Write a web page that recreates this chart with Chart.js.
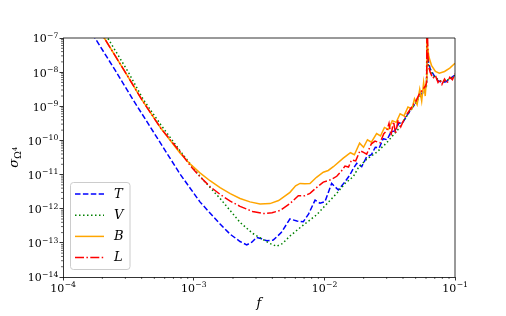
<!DOCTYPE html>
<html><head><meta charset="utf-8">
<script src="https://cdn.jsdelivr.net/npm/chart.js@4.4.1/dist/chart.umd.min.js"></script>
<style>html,body{margin:0;padding:0;background:#fff;}canvas{display:block;}</style>
</head><body>
<canvas id="c" width="506" height="316"></canvas>
<script>
// ---- data (log10 values) ----
const seriesNames = ['T', 'V', 'B', 'L'];
const xTickExps = [-4, -3, -2, -1];
const yTickExps = [-14, -13, -12, -11, -10, -9, -8, -7];

const logF_T = [-4.0,-3.755,-3.6,-3.462,-3.3,-3.105,-2.952,-2.798,-2.72,-2.645,-2.594,-2.555,-2.518,-2.48,-2.441,-2.391,-2.33,-2.263,-2.21,-2.161,-2.12,-2.071,-2.033,-1.995,-1.944,-1.893,-1.842,-1.804,-1.778,-1.752,-1.714,-1.676,-1.64,-1.61,-1.58,-1.55,-1.52,-1.49,-1.46,-1.43,-1.40,-1.37,-1.345,-1.31,-1.28,-1.25,-1.225,-1.217,-1.214,-1.208,-1.19,-1.16,-1.13,-1.10,-1.07,-1.04,-1.0];
const logS_T = [-5.5,-7.0,-7.95,-8.82,-9.8,-10.98,-11.8,-12.45,-12.75,-12.96,-13.06,-12.98,-12.84,-12.88,-12.94,-12.92,-12.7,-12.30,-12.36,-12.38,-12.15,-11.75,-11.84,-11.79,-11.26,-11.45,-11.21,-11.01,-10.82,-10.67,-10.77,-10.48,-10.42,-10.2,-10.22,-9.95,-9.98,-9.75,-9.72,-9.5,-9.48,-9.28,-9.14,-8.95,-8.75,-8.6,-8.45,-8.3,-7.0,-7.6,-7.9,-8.1,-8.25,-8.3,-8.28,-8.2,-8.08];

const logF_V = [-4.0,-3.658,-3.5,-3.386,-3.25,-3.105,-2.952,-2.798,-2.645,-2.55,-2.492,-2.416,-2.365,-2.32,-2.263,-2.2,-2.161,-2.11,-2.059,-1.982,-1.905,-1.842,-1.778,-1.74,-1.676,-1.6,-1.523,-1.434,-1.345,-1.28,-1.235,-1.218,-1.215,-1.208,-1.19,-1.16,-1.13,-1.1,-1.07,-1.04,-1.0];
const logS_V = [-4.8,-7.0,-8.0,-8.8,-9.55,-10.3,-11.05,-11.7,-12.4,-12.72,-12.85,-13.02,-13.1,-13.02,-12.8,-12.6,-12.48,-12.33,-12.18,-11.86,-11.55,-11.26,-11.06,-10.8,-10.55,-10.35,-10.07,-9.67,-9.14,-8.78,-8.55,-8.4,-7.0,-7.7,-7.95,-8.12,-8.22,-8.28,-8.25,-8.2,-8.1];

const logF_B = [-4.0,-3.684,-3.5,-3.398,-3.25,-3.105,-3.03,-2.952,-2.875,-2.798,-2.72,-2.645,-2.569,-2.492,-2.416,-2.35,-2.263,-2.22,-2.186,-2.15,-2.11,-2.06,-2.008,-1.97,-1.931,-1.855,-1.80,-1.77,-1.73,-1.70,-1.67,-1.64,-1.60,-1.57,-1.54,-1.51,-1.48,-1.45,-1.42,-1.39,-1.36,-1.33,-1.31,-1.29,-1.27,-1.255,-1.24,-1.228,-1.218,-1.215,-1.21,-1.2,-1.18,-1.15,-1.12,-1.08,-1.04,-1.0];
const logS_B = [-5.2,-7.0,-8.15,-8.8,-9.65,-10.37,-10.68,-10.95,-11.18,-11.38,-11.56,-11.70,-11.8,-11.86,-11.85,-11.76,-11.52,-11.33,-11.26,-11.27,-11.26,-11.08,-10.93,-10.88,-10.77,-10.52,-10.36,-10.42,-10.08,-10.2,-9.98,-10.05,-9.8,-9.87,-9.62,-9.68,-9.42,-9.47,-9.22,-9.28,-9.02,-9.08,-8.78,-8.95,-8.5,-8.85,-8.3,-8.7,-8.2,-6.8,-7.25,-7.55,-7.8,-7.98,-8.03,-7.98,-7.88,-7.74];

const logF_L = [-4.0,-3.684,-3.5,-3.398,-3.25,-3.105,-3.03,-2.952,-2.875,-2.798,-2.72,-2.645,-2.55,-2.467,-2.40,-2.339,-2.263,-2.199,-2.15,-2.11,-2.05,-2.008,-1.95,-1.905,-1.87,-1.842,-1.815,-1.791,-1.76,-1.727,-1.70,-1.676,-1.64,-1.612,-1.574,-1.545,-1.523,-1.505,-1.49,-1.47,-1.455,-1.435,-1.415,-1.38,-1.345,-1.30,-1.27,-1.245,-1.225,-1.217,-1.214,-1.21,-1.205,-1.19,-1.17,-1.15,-1.13,-1.115,-1.10,-1.08,-1.06,-1.04,-1.02,-1.0];
const logS_L = [-5.2,-7.0,-8.15,-8.8,-9.65,-10.33,-10.72,-11.06,-11.35,-11.58,-11.78,-11.93,-12.08,-12.14,-12.12,-12.05,-11.85,-11.62,-11.62,-11.55,-11.35,-11.22,-11.15,-11.05,-10.9,-10.75,-10.78,-10.57,-10.6,-10.3,-10.35,-10.4,-10.1,-10.02,-10.07,-9.8,-9.72,-9.5,-9.85,-9.45,-9.8,-9.4,-9.6,-9.3,-9.1,-8.85,-8.62,-8.5,-8.4,-8.3,-6.4,-7.0,-7.8,-8.0,-8.18,-8.1,-8.3,-8.22,-8.36,-8.2,-8.32,-8.15,-8.22,-8.05];

// ---- helpers ----
const toPts = (lf, ls) => lf.map((v, i) => ({ x: Math.pow(10, v), y: Math.pow(10, ls[i]) }));

const styles = [
  { color: '#0000ff', dash: [5.5, 2.4] },
  { color: '#008000', dash: [1.5, 2.5] },
  { color: '#ffa500', dash: [] },
  { color: '#ff0000', dash: [9, 2.4, 1.5, 2.4] }
];
const pairs = [[logF_T, logS_T], [logF_V, logS_V], [logF_B, logS_B], [logF_L, logS_L]];

const datasets = seriesNames.map((n, i) => ({
  label: n,
  data: toPts(pairs[i][0], pairs[i][1]),
  borderColor: styles[i].color,
  borderDash: styles[i].dash,
  borderWidth: 1.5,
  pointRadius: 0,
  tension: 0,
  fill: false,
  order: 4 - i
}));

const decadeMinor = (exps) => {
  const out = [];
  for (let k = 0; k < exps.length - 1; k++) for (let m = 2; m <= 9; m++) out.push(m * Math.pow(10, exps[k]));
  return out;
};

const BASE_FONT = '11px "DejaVu Serif"';
const EXP_FONT = '7.7px "DejaVu Serif"';
function drawPow(ctx, exp, x, yb, align) {
  const e = '\u2212' + Math.abs(exp);
  ctx.font = BASE_FONT; const w1 = ctx.measureText('10').width;
  ctx.font = EXP_FONT; const w2 = ctx.measureText(e).width;
  const x0 = align === 'center' ? x - (w1 + w2) / 2 : x - w1 - w2;
  ctx.textAlign = 'left'; ctx.textBaseline = 'alphabetic';
  ctx.font = BASE_FONT; ctx.fillText('10', x0, yb);
  ctx.font = EXP_FONT; ctx.fillText(e, x0 + w1 + 0.3, yb - 4.6);
}

const extras = {
  id: 'extras',
  afterDraw(chart) {
    const ctx = chart.ctx, a = chart.chartArea, xs = chart.scales.x, ys = chart.scales.y;
    ctx.save();
    ctx.strokeStyle = '#000'; ctx.lineWidth = 0.8; ctx.setLineDash([]);
    ctx.beginPath();
    ctx.moveTo(a.left, a.top); ctx.lineTo(a.right, a.top); ctx.lineTo(a.right, a.bottom);
    ctx.stroke();
    ctx.lineWidth = 0.6;
    ctx.beginPath();
    decadeMinor(xTickExps).forEach(v => { const p = xs.getPixelForValue(v); ctx.moveTo(p, a.bottom); ctx.lineTo(p, a.bottom + 2); });
    decadeMinor(yTickExps).forEach(v => { const p = ys.getPixelForValue(v); ctx.moveTo(a.left, p); ctx.lineTo(a.left - 2, p); });
    ctx.stroke();
    // tick labels (10^n) placed with the scales
    ctx.fillStyle = '#000';
    xTickExps.forEach(e => drawPow(ctx, e, xs.getPixelForValue(Math.pow(10, e)), a.bottom + 14.5, 'center'));
    yTickExps.forEach(e => drawPow(ctx, e, a.left - 5, ys.getPixelForValue(Math.pow(10, e)) + 4.4, 'right'));
    // legend
    const bx = 70.5, by = 182.5, bw = 59.5, bh = 87, r = 3;
    ctx.beginPath();
    ctx.moveTo(bx + r, by); ctx.lineTo(bx + bw - r, by); ctx.quadraticCurveTo(bx + bw, by, bx + bw, by + r);
    ctx.lineTo(bx + bw, by + bh - r); ctx.quadraticCurveTo(bx + bw, by + bh, bx + bw - r, by + bh);
    ctx.lineTo(bx + r, by + bh); ctx.quadraticCurveTo(bx, by + bh, bx, by + bh - r);
    ctx.lineTo(bx, by + r); ctx.quadraticCurveTo(bx, by, bx + r, by);
    ctx.closePath();
    ctx.fillStyle = 'rgba(255,255,255,0.8)'; ctx.fill();
    ctx.strokeStyle = '#cccccc'; ctx.lineWidth = 1; ctx.stroke();
    chart.data.datasets.forEach((ds, i) => {
      const yy = 194 + i * 21.2;
      ctx.beginPath();
      ctx.setLineDash(ds.borderDash || []);
      ctx.strokeStyle = ds.borderColor; ctx.lineWidth = 1.5;
      ctx.moveTo(75, yy); ctx.lineTo(104, yy); ctx.stroke();
      ctx.setLineDash([]);
      ctx.fillStyle = '#000';
      ctx.font = 'italic 13px "DejaVu Serif"';
      ctx.textAlign = 'left'; ctx.textBaseline = 'middle';
      ctx.fillText(ds.label, 114, yy + 0.5);
    });
    // y-axis title sigma_{Omega^4}
    ctx.translate(16, (a.top + a.bottom) / 2);
    ctx.rotate(-Math.PI / 2);
    ctx.fillStyle = '#000';
    ctx.textBaseline = 'alphabetic'; ctx.textAlign = 'left';
    const f1 = 'italic 13px "DejaVu Serif"', f2 = '9px "DejaVu Serif"', f3 = '6.5px "DejaVu Serif"';
    ctx.font = f1; const w1 = ctx.measureText('\u03C3').width;
    ctx.font = f2; const w2 = ctx.measureText('\u03A9').width;
    ctx.font = f3; const w3 = ctx.measureText('4').width;
    const x0 = -(w1 + w2 + w3) / 2;
    ctx.font = f1; ctx.fillText('\u03C3', x0, 2);
    ctx.font = f2; ctx.fillText('\u03A9', x0 + w1, 5);
    ctx.font = f3; ctx.fillText('4', x0 + w1 + w2 + 0.3, 0.5);
    ctx.restore();
  }
};

new Chart(document.getElementById('c'), {
  type: 'line',
  data: { datasets },
  plugins: [extras],
  options: {
    responsive: false, animation: false, devicePixelRatio: 1,
    layout: { padding: { top: 38, right: 51, left: 0, bottom: 0 } },
    plugins: { legend: { display: false }, tooltip: { enabled: false } },
    scales: {
      x: {
        type: 'logarithmic', min: 1e-4, max: 1e-1,
        afterFit(s) { s.height = 39; },
        afterBuildTicks(s) { s.ticks = xTickExps.map(e => ({ value: Math.pow(10, e) })); },
        ticks: { display: false },
        grid: { display: true, drawOnChartArea: false, drawTicks: true, tickLength: 3.5, tickWidth: 0.8, tickColor: '#000' },
        border: { display: true, color: '#000', width: 0.8 },
        title: { display: true, text: 'f', color: '#000', font: { family: 'DejaVu Serif', style: 'italic', size: 13 }, padding: { top: 0, bottom: 5 } }
      },
      y: {
        type: 'logarithmic', min: 1e-14, max: 1e-7,
        afterFit(s) { s.width = 63; },
        afterBuildTicks(s) { s.ticks = yTickExps.map(e => ({ value: Math.pow(10, e) })); },
        ticks: { display: false },
        grid: { display: true, drawOnChartArea: false, drawTicks: true, tickLength: 3.5, tickWidth: 0.8, tickColor: '#000' },
        border: { display: true, color: '#000', width: 0.8 }
      }
    }
  }
});
</script>
</body></html>
